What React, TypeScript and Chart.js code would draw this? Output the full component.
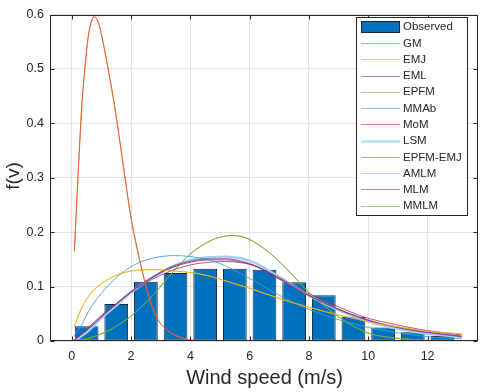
import { useEffect, useRef } from "react";
import { Chart, registerables } from "chart.js";

Chart.register(...registerables);

// ---------- data ----------
const binCenters = [0.5, 1.5, 2.5, 3.5, 4.5, 5.5, 6.5, 7.5, 8.5, 9.5, 10.5, 11.5, 12.5];
const observed = [0.027, 0.068, 0.109, 0.125, 0.133, 0.133, 0.131, 0.108, 0.084, 0.0445, 0.025, 0.016, 0.009];

const gmX = [0.09, 0.2, 0.34, 0.43, 0.54, 0.65, 0.76, 0.9, 1.04, 1.25, 1.44, 1.64, 1.77, 2.0, 2.22, 2.45, 2.67, 2.9, 3.24, 3.68, 4.25, 5.0, 6.0, 8.0, 10.0, 13.15];
const gmY = [0.165, 0.29, 0.433, 0.493, 0.553, 0.585, 0.596, 0.585, 0.553, 0.493, 0.433, 0.36, 0.31, 0.226, 0.166, 0.112, 0.07, 0.04, 0.019, 0.0065, 0.0005, 0, 0, 0, 0, 0];

const emjX = [0.09, 0.31, 0.65, 1.1, 1.66, 2.22, 2.9, 3.57, 4.25, 4.92, 5.5, 6.0, 7.0, 8.0, 8.9, 9.9, 10.4, 11.0, 12.0, 13.15];
const emjY = [0.027, 0.058, 0.088, 0.109, 0.124, 0.13, 0.131, 0.128, 0.124, 0.115, 0.105, 0.097, 0.078, 0.062, 0.049, 0.037, 0.031, 0.026, 0.018, 0.013];

const epfmX = [0.09, 0.5, 1.1, 1.5, 2.0, 2.67, 3.35, 4.02, 4.7, 5.03, 5.42, 5.9, 6.27, 6.885, 7.5, 8.0, 8.9, 9.92, 10.6, 11.2, 12.0, 13.15];
const epfmY = [0.0005, 0.004, 0.0155, 0.027, 0.046, 0.08, 0.123, 0.161, 0.185, 0.191, 0.194, 0.189, 0.178, 0.152, 0.118, 0.089, 0.048, 0.016, 0.0075, 0.004, 0.001, 0];

const mmabX = [0.09, 0.31, 0.65, 1.1, 1.66, 2.22, 2.9, 3.46, 4.02, 4.7, 5.3, 6.1, 7.0, 8.0, 9.13, 10.0, 11.0, 12.0, 13.15];
const mmabY = [0.01, 0.028, 0.062, 0.094, 0.124, 0.143, 0.154, 0.157, 0.155, 0.148, 0.135, 0.112, 0.084, 0.058, 0.037, 0.025, 0.015, 0.008, 0.004];

const clusterX = [0.09, 0.5, 1.1, 1.5, 2.0, 2.67, 3.35, 4.02, 4.7, 5.2, 5.7, 6.2, 6.9, 8.0, 8.9, 9.92, 10.6, 11.77, 13.15];
const emlY = [0.002, 0.02, 0.05, 0.068, 0.091, 0.116, 0.136, 0.147, 0.151, 0.151, 0.147, 0.138, 0.117, 0.083, 0.06, 0.039, 0.029, 0.017, 0.008];
const momY = [0.003, 0.022, 0.052, 0.069, 0.09, 0.112, 0.129, 0.14, 0.145, 0.146, 0.144, 0.138, 0.119, 0.087, 0.065, 0.043, 0.034, 0.021, 0.011];
const lsmY = [0.001, 0.016, 0.047, 0.065, 0.089, 0.115, 0.136, 0.149, 0.154, 0.155, 0.152, 0.143, 0.121, 0.084, 0.059, 0.037, 0.027, 0.015, 0.007];
const mlmY = [0.002, 0.019, 0.049, 0.067, 0.09, 0.115, 0.134, 0.145, 0.149, 0.149, 0.145, 0.137, 0.117, 0.084, 0.061, 0.04, 0.03, 0.018, 0.009];

const xTicks = [0, 2, 4, 6, 8, 10, 12];
const yTicks = [0, 0.1, 0.2, 0.3, 0.4, 0.5, 0.6];
const xTitle = "Wind speed (m/s)";
const yTitle = "f(v)";

const FONT = '"Liberation Sans", Arial, Helvetica, sans-serif';
const AXIS = "#262626";

const framePlugin = {
  id: "frame",
  afterDatasetsDraw(chart: any) {
    const { ctx, chartArea: a, scales } = chart;
    ctx.save();
    // box
    ctx.strokeStyle = AXIS;
    ctx.lineWidth = 1;
    const L = Math.round(a.left) - 0.5, R = Math.round(a.right) - 0.5;
    const T = Math.round(a.top) + 0.5, B = Math.round(a.bottom) - 0.5;
    ctx.strokeRect(L, T, R - L, B - T);
    // inside tick marks
    ctx.beginPath();
    for (const v of xTicks) {
      const px = Math.round(scales.x.getPixelForValue(v)) + 0.5;
      ctx.moveTo(px, B); ctx.lineTo(px, B - 4);
      ctx.moveTo(px, T); ctx.lineTo(px, T + 4);
    }
    for (const v of yTicks) {
      const py = Math.round(scales.y.getPixelForValue(v)) + 0.5;
      ctx.moveTo(L, py); ctx.lineTo(L + 4, py);
      ctx.moveTo(R, py); ctx.lineTo(R - 4, py);
    }
    ctx.stroke();

    // legend
    const lx = 356.5, ly = 17.5, lw = 111, lh = 198;
    ctx.fillStyle = "#ffffff";
    ctx.fillRect(lx, ly, lw, lh);
    ctx.strokeStyle = AXIS;
    ctx.strokeRect(lx, ly, lw, lh);
    ctx.font = `11.5px ${FONT}`;
    ctx.textAlign = "left";
    ctx.textBaseline = "middle";
    chart.data.datasets.forEach((ds: any, i: number) => {
      const cy = 26.7 + i * 16.27;
      if (ds.type === "bar") {
        ctx.fillStyle = ds.backgroundColor;
        ctx.fillRect(361, cy - 5.5, 39, 11);
        ctx.strokeStyle = "#1d2733";
        ctx.strokeRect(361.5, Math.round(cy - 5.5) + 0.5, 38, 11);
      } else {
        ctx.save();
        ctx.globalAlpha = 0.75;
        ctx.strokeStyle = ds.borderColor;
        ctx.lineWidth = ds.borderWidth;
        ctx.beginPath();
        const yy = Math.round(cy) + (ds.borderWidth % 2 ? 0.5 : 0);
        ctx.moveTo(361, yy);
        ctx.lineTo(400, yy);
        ctx.stroke();
        ctx.restore();
      }
      ctx.fillStyle = AXIS;
      ctx.fillText(ds.label, 403, cy + 0.5);
    });
    ctx.restore();
  },
  afterDraw(chart: any) {
    const { ctx, chartArea: a } = chart;
    ctx.save();
    ctx.fillStyle = AXIS;
    ctx.textAlign = "center";
    ctx.textBaseline = "alphabetic";
    ctx.font = `20px ${FONT}`;
    ctx.fillText(xTitle, (a.left + a.right) / 2, 384);
    ctx.translate(19, 176);
    ctx.rotate(-Math.PI / 2);
    ctx.font = `19px ${FONT}`;
    ctx.fillText(yTitle, 0, 0);
    ctx.restore();
  },
};

export default function App() {
  const ref = useRef<HTMLCanvasElement>(null);
  useEffect(() => {
    const pts = (xs: number[], ys: number[]) => xs.map((x, i) => ({ x, y: ys[i] }));
    const line = (label: string, xs: number[], ys: number[], color: string, width = 1, order = 0) => ({
      type: "line" as const,
      label,
      data: pts(xs, ys),
      borderColor: color,
      backgroundColor: color,
      borderWidth: width,
      pointRadius: 0,
      fill: false,
      cubicInterpolationMode: "monotone" as const,
      order,
    });
    const chart = new Chart(ref.current as HTMLCanvasElement, {
      type: "bar",
      data: {
        datasets: [
          {
            type: "bar",
            label: "Observed",
            data: pts(binCenters, observed),
            backgroundColor: "#0072BD",
            borderColor: "#1d2733",
            borderWidth: 1,
            borderSkipped: false,
            categoryPercentage: 0.8,
            barPercentage: 1,
            order: 20,
          } as any,
          line("GM", gmX, gmY, "rgba(226,100,50,0.85)"),
          line("EMJ", emjX, emjY, "rgba(237,177,32,0.8)"),
          line("EML", clusterX, emlY, "rgba(126,47,142,0.8)"),
          line("EPFM", epfmX, epfmY, "rgba(119,172,48,0.8)"),
          line("MMAb", mmabX, mmabY, "rgba(63,157,219,0.85)"),
          line("MoM", clusterX, momY, "rgba(190,40,80,0.8)"),
          line("LSM", clusterX, lsmY, "#9fd2ef", 2.5, 1),
          line("EPFM-EMJ", gmX, gmY, "rgba(226,100,50,0.85)"),
          line("AMLM", emjX, emjY, "rgba(237,177,32,0.8)"),
          line("MLM", clusterX, mlmY, "rgba(126,47,142,0.8)"),
          line("MMLM", epfmX, epfmY, "rgba(119,172,48,0.8)"),
        ],
      },
      options: {
        responsive: false,
        animation: false,
        devicePixelRatio: 1,
        layout: { padding: { left: 0, right: 2, top: 7, bottom: 0 } },
        plugins: { legend: { display: false }, tooltip: { enabled: false } },
        scales: {
          x: {
            type: "linear",
            min: -0.7,
            max: 13.7,
            offset: false,
            afterBuildTicks: (s: any) => { s.ticks = xTicks.map((v) => ({ value: v })); },
            afterFit: (s: any) => { s.height = 51; },
            grid: { color: "#e3e3e3", drawTicks: false, offset: false },
            border: { display: false },
            ticks: { font: { family: FONT, size: 12.5 }, color: AXIS, padding: 8, maxRotation: 0 },
          },
          y: {
            type: "linear",
            min: 0,
            max: 0.6,
            afterBuildTicks: (s: any) => { s.ticks = yTicks.map((v) => ({ value: v })); },
            afterFit: (s: any) => { s.width = 51; },
            grid: { color: "#e3e3e3", drawTicks: false },
            border: { display: false },
            ticks: { font: { family: FONT, size: 12.5 }, color: AXIS, padding: 7 },
          },
        },
      } as any,
      plugins: [framePlugin],
    });
    return () => chart.destroy();
  }, []);
  return (
    <div style={{ position: "fixed", left: 0, top: 0, width: 480, height: 392, background: "#fff" }}>
      <canvas ref={ref} width={480} height={392} style={{ display: "block", width: 480, height: 392 }} />
    </div>
  );
}
